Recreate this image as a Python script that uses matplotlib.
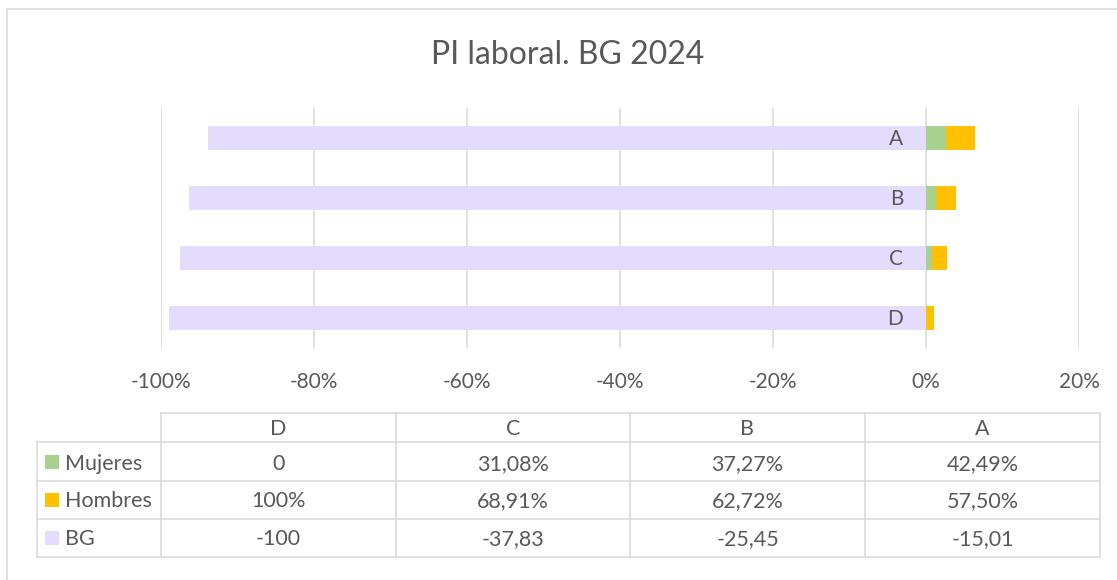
import matplotlib
matplotlib.use("Agg")
import matplotlib.pyplot as plt
from matplotlib.patches import Rectangle

plt.rcParams['font.family'] = ['Lato', 'DejaVu Sans']

# ---- data ----
categories = ['D', 'C', 'B', 'A']              # bottom to top
bg_bar = [-99.0, -97.5, -96.3, -93.8]           # bar lengths (%)
mujeres_bar = [0.0, 0.74, 1.3, 2.57]
hombres_bar = [1.1, 1.96, 2.6, 3.84]
x_ticks = [-100, -80, -60, -40, -20, 0, 20]

series_names = ['Mujeres', 'Hombres', 'BG']
table_mujeres = ['0', '31,08%', '37,27%', '42,49%']
table_hombres = ['100%', '68,91%', '62,72%', '57,50%']
table_bg = ['-100', '-37,83', '-25,45', '-15,01']

title = 'PI laboral. BG 2024'

# ---- styles ----
C_BG = '#E4DCFC'
C_MUJ = '#A9D18E'
C_HOM = '#FFC000'
C_GRID = '#D9D9D9'
C_TXT = '#595959'
FS = 15
FS_TAB = 15.5

W, H = 1117, 580
fig = plt.figure(figsize=(W / 100, H / 100), dpi=100)

# overlay in pixel coordinates for title, table, border
ov = fig.add_axes([0, 0, 1, 1], zorder=0)
ov.set_xlim(0, W)
ov.set_ylim(H, 0)
ov.axis('off')

ax = fig.add_axes([161 / W, 1 - 348 / H, (1079 - 161) / W, 240 / H], zorder=1)
ax.patch.set_alpha(0)

y = list(range(len(categories)))
ax.barh(y, bg_bar, height=0.4, color=C_BG, zorder=2)
ax.barh(y, mujeres_bar, height=0.4, color=C_MUJ, zorder=2)
ax.barh(y, hombres_bar, left=mujeres_bar, height=0.4, color=C_HOM, zorder=2)

ax.set_xlim(-100, 20)
ax.set_ylim(-0.5, len(categories) - 0.5)
ax.set_xticks(x_ticks)
ax.set_xticklabels([f'{t}%' for t in x_ticks])
ax.set_yticks([])
ax.tick_params(axis='x', length=0, pad=17, labelsize=FS, labelcolor=C_TXT)
for s in ax.spines.values():
    s.set_visible(False)
ax.grid(axis='x', color=C_GRID, linewidth=1.1, zorder=1)
ax.set_axisbelow(True)

for yi, cat in zip(y, categories):
    ax.annotate(cat, xy=(0, yi), xytext=(-16.5, -5.2), textcoords='offset points',
                ha='right', va='baseline', fontsize=FS, color=C_TXT, zorder=3)

# title
ov.text(568, 64, title, ha='center', va='baseline', fontsize=23, color=C_TXT)

# outer border (left and top)
ov.plot([7, 7], [9, H], color=C_GRID, lw=1.1)
ov.plot([7, W], [9, 9], color=C_GRID, lw=1.1)

# data table
col_edges = [161, 395.5, 630, 865, 1100]
row_edges = [413, 442, 481, 519, 557]
leg_left = 37
lw_t = 1.1
ov.plot([col_edges[0], col_edges[-1]], [row_edges[0], row_edges[0]], color=C_GRID, lw=lw_t)
for r in row_edges[1:]:
    ov.plot([leg_left, col_edges[-1]], [r, r], color=C_GRID, lw=lw_t)
for c in col_edges:
    ov.plot([c, c], [row_edges[0], row_edges[-1]], color=C_GRID, lw=lw_t)
ov.plot([leg_left, leg_left], [row_edges[1], row_edges[-1]], color=C_GRID, lw=lw_t)

baselines = [435, 470, 507, 545]
centers = [(col_edges[i] + col_edges[i + 1]) / 2 for i in range(4)]
for cx, cat in zip(centers, categories):
    ov.text(cx, baselines[0], cat, ha='center', va='baseline', fontsize=FS_TAB, color=C_TXT)

rows = [table_mujeres, table_hombres, table_bg]
colors = [C_MUJ, C_HOM, C_BG]
for i, (name, vals, col) in enumerate(zip(series_names, rows, colors)):
    b = baselines[i + 1]
    ymid = (row_edges[i + 1] + row_edges[i + 2]) / 2
    ov.add_patch(Rectangle((45, ymid - 7), 14, 14, color=col, lw=0))
    ov.text(65, b, name, ha='left', va='baseline', fontsize=FS_TAB, color=C_TXT)
    for cx, v in zip(centers, vals):
        ov.text(cx, b, v, ha='center', va='baseline', fontsize=FS_TAB, color=C_TXT)

fig.savefig('out.png', dpi=100)
